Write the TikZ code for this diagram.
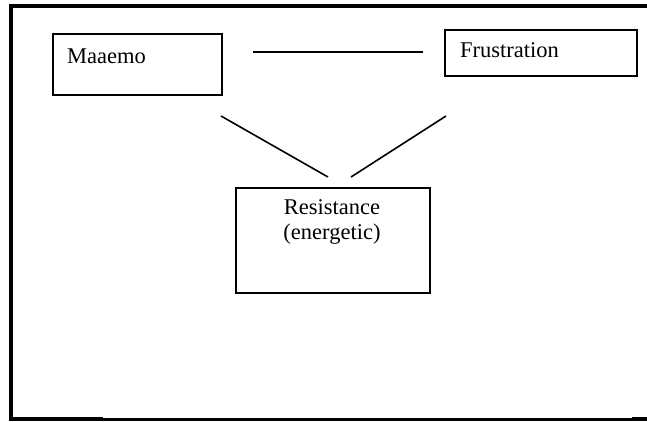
\documentclass[tikz,border=0pt]{standalone}
\usepackage{fontspec}
\setmainfont{Liberation Serif}
\begin{document}
\begin{tikzpicture}[x=1pt,y=-1pt,
  box/.style={draw=black,line width=2pt,rectangle,inner sep=0pt},
  label/.style={inner sep=0pt,font=\fontsize{22.5}{24.5}\selectfont},
  link/.style={draw=black,line width=1.6pt},
  frame/.style={draw=black,line width=4pt},
  thinframe/.style={draw=black,line width=2.6pt}]
\useasboundingbox (0,0) rectangle (647,421);

% outer frame
\coordinate (ftl) at (9,5.5);
\coordinate (ftr) at (650,5.5);
\coordinate (fl) at (11,5.5);
\coordinate (fbl) at (11,421);
\coordinate (fb0) at (9,419);
\coordinate (fb1) at (103,419);
\coordinate (fb2) at (103,419.6);
\coordinate (fb3) at (632,419.6);
\coordinate (fb4) at (632,419);
\coordinate (fb5) at (650,419);
\draw[frame] (ftl) -- (ftr);
\draw[frame] (fl) -- (fbl);
\draw[frame] (fb0) -- (fb1);
\draw[thinframe] (fb2) -- (fb3);
\draw[frame] (fb4) -- (fb5);

% boxes
\node[box,minimum width=169pt,minimum height=61pt] (maaemo) at (137.5,64.5) {};
\node[box,minimum width=192pt,minimum height=46pt] (frust) at (541,53) {};
\node[box,minimum width=194pt,minimum height=105pt] (resist) at (333,240.5) {};

% texts
\node[label,anchor=base west] (tmaaemo) at (67,63) {Maaemo};
\node[label,anchor=base west] (tfrust) at (460,57) {Frustration};
\node[label,align=center,anchor=center] (tresist) at (332,222) {Resistance\\(energetic)};

% links
\coordinate (h1) at (253,52);
\coordinate (h2) at (423,52);
\coordinate (l1) at (221,116);
\coordinate (l2) at (328,177);
\coordinate (r1) at (446,116);
\coordinate (r2) at (351,177);
\draw[link] (h1) -- (h2);
\draw[link] (l1) -- (l2);
\draw[link] (r1) -- (r2);
\end{tikzpicture}
\end{document}
